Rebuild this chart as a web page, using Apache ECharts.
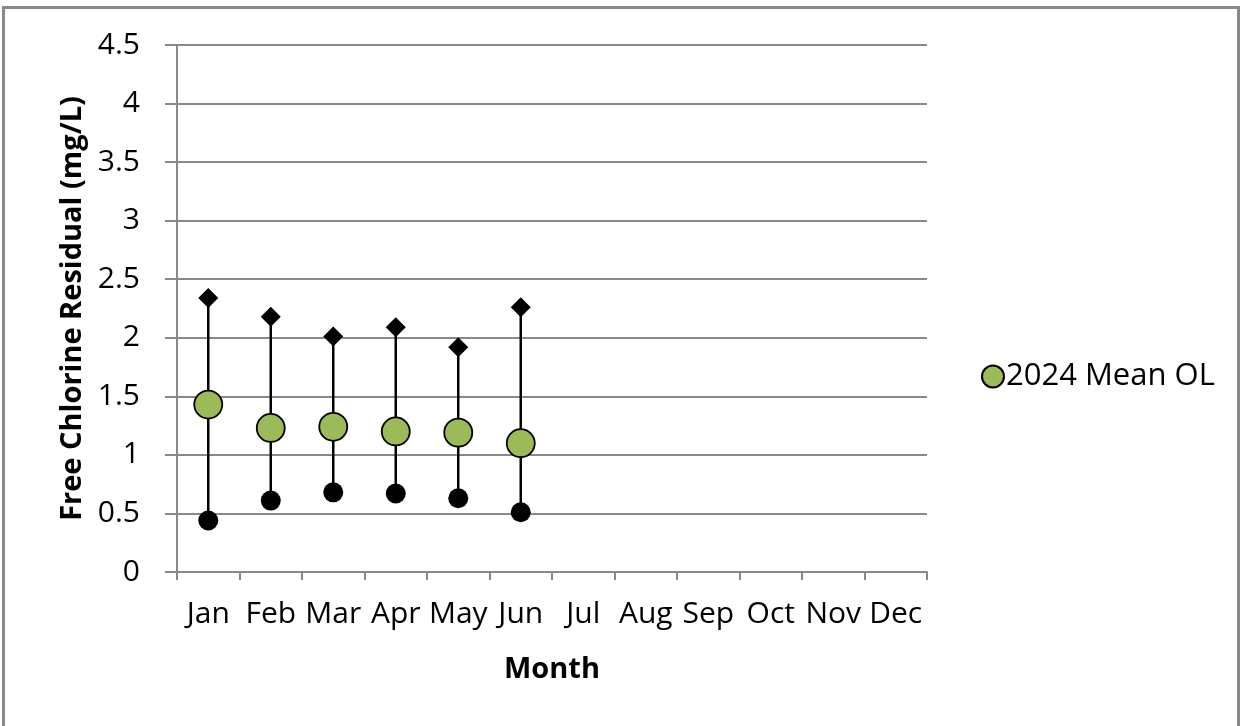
<!DOCTYPE html>
<html>
<head>
<meta charset="utf-8">
<script src="https://cdn.jsdelivr.net/npm/echarts@6/dist/echarts.min.js"></script>
<style>
html,body{margin:0;padding:0;background:#fff;}
#chart{width:1241px;height:726px;}
</style>
</head>
<body>
<div id="chart"></div>
<script>
const months = ['Jan','Feb','Mar','Apr','May','Jun','Jul','Aug','Sep','Oct','Nov','Dec'];
const meanOL = [1.43, 1.23, 1.24, 1.20, 1.19, 1.10];
const maxOL  = [2.34, 2.18, 2.01, 2.09, 1.92, 2.26];
const minOL  = [0.44, 0.61, 0.68, 0.67, 0.63, 0.51];
const yMin = 0, yMax = 4.5, yInterval = 0.5;

const FONT = 'Open Sans';
const grey = '#898989';

const rangeData = minOL.map((v, i) => [i, v, maxOL[i]]);

const chart = echarts.init(document.getElementById('chart'));
chart.setOption({
  animation: false,
  backgroundColor: '#fff',
  textStyle: { fontFamily: FONT },
  graphic: [{
    type: 'rect',
    shape: { x: 3.5, y: 7.5, width: 1235, height: 740 },
    style: { fill: 'none', stroke: grey, lineWidth: 3 },
    silent: true
  }],
  grid: { left: 177, right: 314, top: 45, bottom: 154 },
  legend: {
    data: ['2024 Mean OL'],
    left: 976, top: 356,
    icon: 'circle',
    itemWidth: 22, itemHeight: 22, itemGap: 4,
    textStyle: { fontFamily: FONT, fontSize: 31, color: '#000', padding: [0,0,0,-3] }
  },
  xAxis: {
    type: 'category',
    data: months,
    boundaryGap: true,
    name: 'Month',
    nameLocation: 'middle',
    nameGap: 83,
    nameTextStyle: { fontFamily: FONT, fontSize: 29, fontWeight: 'bold', color: '#000' },
    axisLine: { show: true, lineStyle: { color: grey, width: 2 } },
    axisTick: { show: true, length: 8, lineStyle: { color: grey, width: 2 } },
    axisLabel: { fontFamily: FONT, fontSize: 30, color: '#000', margin: 27, interval: 0 },
    splitLine: { show: false }
  },
  yAxis: {
    type: 'value',
    min: yMin, max: yMax, interval: yInterval,
    name: 'Free Chlorine Residual (mg/L)',
    nameLocation: 'middle',
    nameGap: 88,
    nameTextStyle: { fontFamily: FONT, fontSize: 29, fontWeight: 'bold', color: '#000' },
    axisLine: { show: true, lineStyle: { color: grey, width: 2 } },
    axisTick: { show: true, length: 12, lineStyle: { color: grey, width: 2 } },
    axisLabel: { fontFamily: FONT, fontSize: 30, color: '#000', margin: 37,
      formatter: v => String(v) },
    splitLine: { show: true, lineStyle: { color: grey, width: 2 } }
  },
  series: [
    {
      name: 'range',
      type: 'custom',
      data: rangeData,
      encode: { x: 0, y: [1, 2] },
      z: 1,
      renderItem: function (params, api) {
        const p1 = api.coord([api.value(0), api.value(1)]);
        const p2 = api.coord([api.value(0), api.value(2)]);
        return {
          type: 'line',
          shape: { x1: p1[0], y1: p1[1], x2: p2[0], y2: p2[1] },
          style: { stroke: '#000', lineWidth: 2.5 }
        };
      }
    },
    {
      name: 'Max OL',
      type: 'scatter',
      data: maxOL,
      symbol: 'diamond',
      symbolSize: [20, 20],
      itemStyle: { color: '#000', opacity: 1 },
      z: 2
    },
    {
      name: 'Min OL',
      type: 'scatter',
      data: minOL,
      symbol: 'circle',
      symbolSize: 20,
      itemStyle: { color: '#000', opacity: 1 },
      z: 2
    },
    {
      name: '2024 Mean OL',
      type: 'scatter',
      data: meanOL,
      symbol: 'circle',
      symbolSize: 28,
      itemStyle: { color: '#9BBB59', borderColor: '#000', borderWidth: 1.8, opacity: 1 },
      z: 3
    }
  ]
});
</script>
</body>
</html>
